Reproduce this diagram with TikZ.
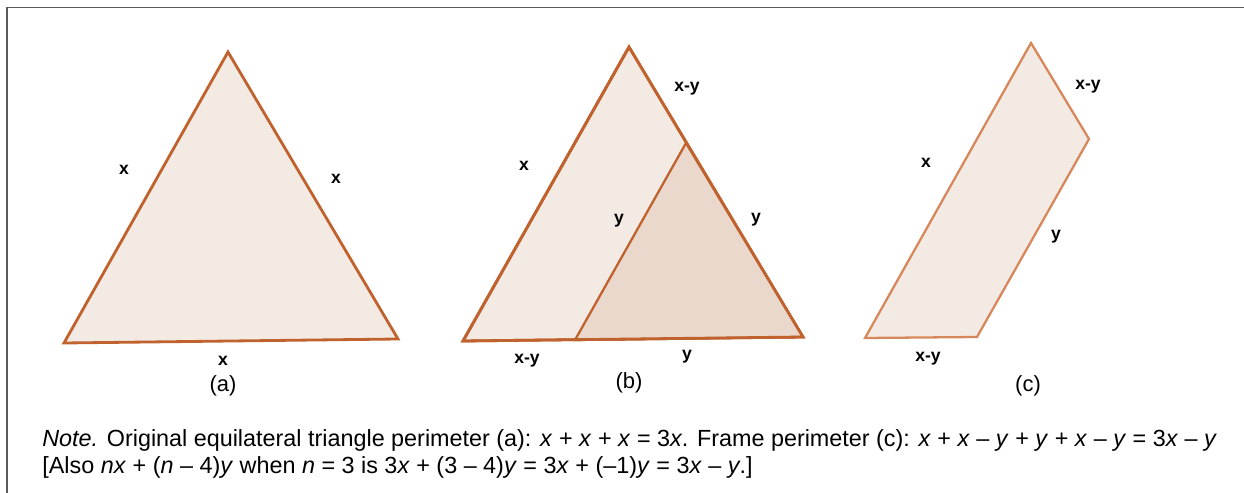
\documentclass[tikz,border=0pt]{standalone}
\usepackage{fontspec}
\setmainfont{Liberation Sans}
\usepackage{tikz}
\usetikzlibrary{positioning, calc}

\definecolor{rim}{RGB}{192,98,46}
\definecolor{rimlight}{RGB}{214,136,92}
\definecolor{paper}{RGB}{244,234,228}
\definecolor{shade}{RGB}{235,216,204}
\definecolor{framegray}{RGB}{90,90,90}

\begin{document}
\begin{tikzpicture}[x=0.02cm, y=-0.02cm,
    piece/.style={draw=rim, line width=1.6pt, fill=paper},
    side/.style={font=\bfseries\fontsize{10}{10}\selectfont, inner sep=0pt},
    tag/.style={font=\fontsize{12.5}{12.5}\selectfont, inner sep=0pt},
    note/.style={font=\fontsize{13.3}{15}\selectfont, inner sep=0pt, anchor=base west}]
  \useasboundingbox (0,0) rectangle (1244,493);

  % Outer frame (top and left only)
  \draw[framegray, line width=1.1pt] (7,493) -- (7,7.5) -- (1244,7.5);

  % (a) original equilateral triangle
  \coordinate (aT) at (228,52);
  \coordinate (aL) at (64,343);
  \coordinate (aR) at (398,339);
  \draw[piece] (aT) -- (aL) -- (aR) -- cycle;
  \node[side] (aLeft) at (124,170) {x};
  \node[side] (aRight) at (336,179) {x};
  \node[side] (aBase) at (223,361) {x};
  \node[tag] (aName) at (223,386) {(a)};

  % (b) triangle with the smaller triangle cut off
  \coordinate (bT) at (629,47);
  \coordinate (bL) at (463,341);
  \coordinate (bR) at (803,337);
  \coordinate (bM) at (686,143);
  \coordinate (bB) at (575,340);
  \draw[piece] (bT) -- (bL) -- (bR) -- cycle;
  \draw[draw=rim, line width=1.3pt, fill=shade] (bM) -- (bB) -- (bR) -- cycle;
  \draw[rim, line width=1.6pt] (bT) -- (bR) -- (bL) -- cycle;
  \node[side] (bTop) at (687,89) {x-y};
  \node[side] (bLeft) at (524,166) {x};
  \node[side] (bMid) at (619,221) {y};
  \node[side] (bRight) at (756,220) {y};
  \node[side] (bBaseL) at (527,361) {x-y};
  \node[side] (bBaseR) at (687,357) {y};
  \node[tag] (bName) at (629,383) {(b)};

  % (c) the frame that is left
  \coordinate (cT) at (1031,43);
  \coordinate (cR) at (1089,139);
  \coordinate (cB) at (977,337);
  \coordinate (cL) at (865,338);
  \draw[piece, draw=rimlight, line width=1.3pt] (cT) -- (cR) -- (cB) -- (cL) -- cycle;
  \node[side] (cTop) at (1088,87) {x-y};
  \node[side] (cLeft) at (926,163) {x};
  \node[side] (cRight) at (1056,237) {y};
  \node[side] (cBase) at (928,359) {x-y};
  \node[tag] (cName) at (1028,386) {(c)};

  % Caption
  \node[note] (noteA) at (42,446)
    {\textit{Note.} Original equilateral triangle perimeter (a): \textit{x} + \textit{x} + \textit{x} = 3\textit{x}. Frame perimeter (c): \textit{x} + \textit{x} – \textit{y} + \textit{y} + \textit{x} – \textit{y} = 3\textit{x} – \textit{y}};
  \node[note] (noteB) at (42,473)
    {[Also \textit{nx} + (\textit{n} – 4)\textit{y} when \textit{n} = 3 is 3\textit{x} + (3 – 4)\textit{y} = 3\textit{x} + (–1)\textit{y} = 3\textit{x} – \textit{y}.]};
\end{tikzpicture}
\end{document}
